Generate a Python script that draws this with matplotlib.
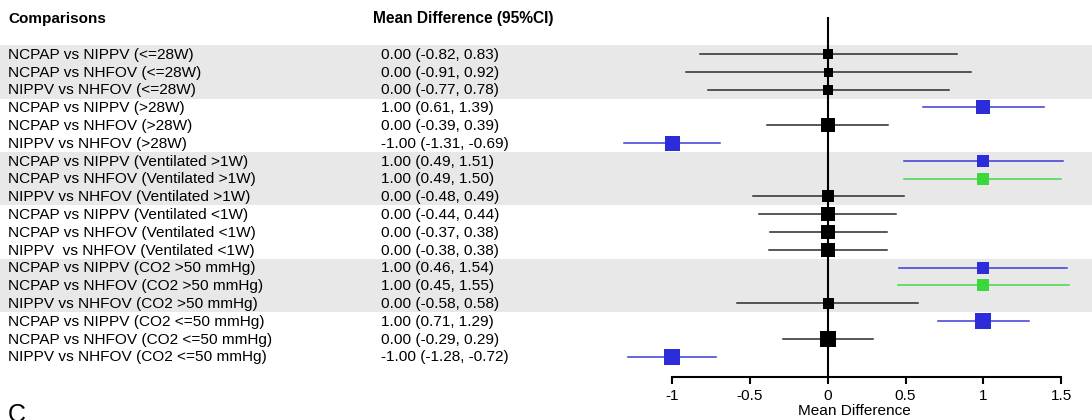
import matplotlib
matplotlib.use("Agg")
import matplotlib.pyplot as plt

plt.rcParams['font.family'] = ['Liberation Sans', 'DejaVu Sans']

comparisons = [
    "NCPAP vs NIPPV (<=28W)",
    "NCPAP vs NHFOV (<=28W)",
    "NIPPV vs NHFOV (<=28W)",
    "NCPAP vs NIPPV (>28W)",
    "NCPAP vs NHFOV (>28W)",
    "NIPPV vs NHFOV (>28W)",
    "NCPAP vs NIPPV (Ventilated >1W)",
    "NCPAP vs NHFOV (Ventilated >1W)",
    "NIPPV vs NHFOV (Ventilated >1W)",
    "NCPAP vs NIPPV (Ventilated <1W)",
    "NCPAP vs NHFOV (Ventilated <1W)",
    "NIPPV  vs NHFOV (Ventilated <1W)",
    "NCPAP vs NIPPV (CO2 >50 mmHg)",
    "NCPAP vs NHFOV (CO2 >50 mmHg)",
    "NIPPV vs NHFOV (CO2 >50 mmHg)",
    "NCPAP vs NIPPV (CO2 <=50 mmHg)",
    "NCPAP vs NHFOV (CO2 <=50 mmHg)",
    "NIPPV vs NHFOV (CO2 <=50 mmHg)",
]
mean_diff = [0.00, 0.00, 0.00, 1.00, 0.00, -1.00, 1.00, 1.00, 0.00,
             0.00, 0.00, 0.00, 1.00, 1.00, 0.00, 1.00, 0.00, -1.00]
ci_low = [-0.82, -0.91, -0.77, 0.61, -0.39, -1.31, 0.49, 0.49, -0.48,
          -0.44, -0.37, -0.38, 0.46, 0.45, -0.58, 0.71, -0.29, -1.28]
ci_high = [0.83, 0.92, 0.78, 1.39, 0.39, -0.69, 1.51, 1.50, 0.49,
           0.44, 0.38, 0.38, 1.54, 1.55, 0.58, 1.29, 0.29, -0.72]
weights = [9.7, 9.0, 10.0, 13.7, 13.7, 15.0, 11.7, 12.0, 11.7,
           13.3, 13.3, 13.3, 11.7, 11.7, 11.0, 15.7, 15.3, 16.0]
groups = ['k', 'k', 'k', 'b', 'k', 'b', 'b', 'g', 'k',
          'k', 'k', 'k', 'b', 'g', 'k', 'b', 'k', 'b']
shaded_blocks = [(0, 2), (6, 8), (12, 14)]
xticks = [-1, -0.5, 0, 0.5, 1, 1.5]

col = {'k': '#000000', 'b': '#2C2CD8', 'g': '#3AD83A'}
line_col = {'k': '#2a2a2a', 'b': '#3a3ad8', 'g': '#45d845'}

W, H = 1092, 420
fig = plt.figure(figsize=(W / 100, H / 100), dpi=100)
fs = 11.1

# pixel geometry of the plot area
top_px, bot_px = 17, 377
row0_px, row_step = 54, 17.8
ylim = ((bot_px - row0_px) / row_step, (top_px - row0_px) / row_step)
rect = [0, (H - bot_px) / H, 1, (bot_px - top_px) / H]

# background axes: bands + text columns, in pixel x
bg = fig.add_axes(rect)
bg.set_xlim(0, W)
bg.set_ylim(*ylim)
bg.axis('off')
for a, b in shaded_blocks:
    bg.axhspan(a - 0.5, b + 0.5, color='#E8E8E8', lw=0, zorder=0)
for i, name in enumerate(comparisons):
    bg.text(8, i + 0.05, name, fontsize=fs, va='center', ha='left')
    txt = f"{mean_diff[i]:.2f} ({ci_low[i]:.2f}, {ci_high[i]:.2f})"
    bg.text(381, i + 0.05, txt, fontsize=fs, va='center', ha='left')

fig.text(8 / W, 1 - 19 / H, "Comparisons", fontsize=11, fontweight='bold', va='center')
fig.text(373 / W, 1 - 19 / H, "Mean Difference (95%CI)", fontsize=11.2, fontweight='bold', va='center')
fig.text(8 / W, 1 - 403 / H, "C", fontsize=18, va='top')

# forest axes
zero_px, unit_px = 827.7, 155.7
left_px = 600
ax = fig.add_axes([left_px / W, rect[1], (W - left_px) / W, rect[3]])
ax.set_facecolor('none')
ax.set_xlim((left_px - zero_px) / unit_px, (W - zero_px) / unit_px)
ax.set_ylim(*ylim)
ax.axvline(0, color='black', lw=1.5, zorder=2)
for i in range(len(comparisons)):
    g = groups[i]
    ax.plot([ci_low[i], ci_high[i]], [i, i], color=line_col[g], lw=1.1, zorder=3)
    ax.plot(mean_diff[i], i, marker='s', ms=weights[i] * 0.72, color=col[g],
            mec=col[g], mew=0, zorder=4)

for s in ['top', 'right', 'left']:
    ax.spines[s].set_visible(False)
ax.spines['bottom'].set_bounds(-1, 1.5)
ax.spines['bottom'].set_linewidth(1.5)
ax.set_yticks([])
ax.set_xticks(xticks)
ax.set_xticklabels([f"{t:g}" for t in xticks], fontsize=fs)
ax.tick_params(axis='x', length=5, width=1.5, pad=4)
fig.text(854 / W, 1 - 411 / H, "Mean Difference", fontsize=fs, ha='center', va='center')

fig.savefig("out.png", dpi=100)
